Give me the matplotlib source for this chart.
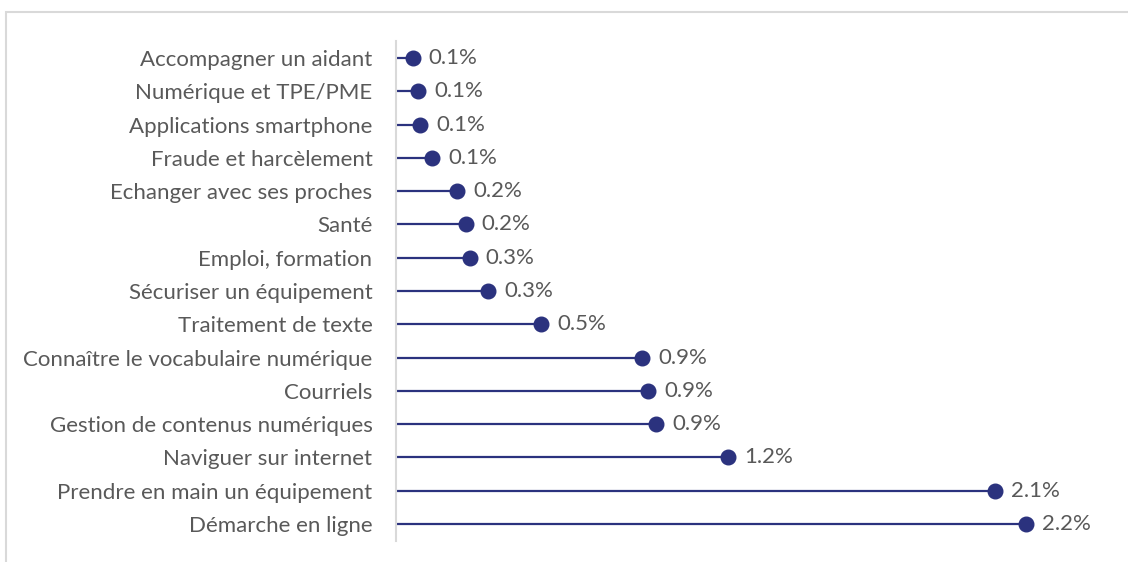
import matplotlib
matplotlib.use("Agg")
import matplotlib.pyplot as plt
from matplotlib.patches import Rectangle

categories = [
    "Accompagner un aidant",
    "Numérique et TPE/PME",
    "Applications smartphone",
    "Fraude et harcèlement",
    "Echanger avec ses proches",
    "Santé",
    "Emploi, formation",
    "Sécuriser un équipement",
    "Traitement de texte",
    "Connaître le vocabulaire numérique",
    "Courriels",
    "Gestion de contenus numériques",
    "Naviguer sur internet",
    "Prendre en main un équipement",
    "Démarche en ligne",
]
values = [0.059, 0.077, 0.084, 0.126, 0.213, 0.244, 0.258, 0.321,
          0.506, 0.859, 0.880, 0.908, 1.159, 2.09, 2.2]

navy = "#2B327E"
text_grey = "#595959"
font = ["Lato", "DejaVu Sans"]
fsize = 16

W, H = 1128, 562
fig = plt.figure(figsize=(W / 100, H / 100), dpi=100)

# outer chart frame
fig.patches.append(Rectangle((5.5 / W, -0.1), 1.2, 1 - 11.5 / H + 0.1,
                             transform=fig.transFigure, fill=False,
                             edgecolor="#D9D9D9", linewidth=1.5))

ax_left, ax_right = 396 / W, 1112 / W
ax_top, ax_bottom = 1 - 41.5 / H, 1 - 540.5 / H
ax = fig.add_axes([ax_left, ax_bottom, ax_right - ax_left, ax_top - ax_bottom])

n = len(categories)
ypos = list(range(n))
ax.hlines(ypos, 0, values, color=navy, linewidth=1.6, zorder=2)
ax.plot(values, ypos, "o", color=navy, markersize=10.5, zorder=3)
for y, v in zip(ypos, values):
    ax.annotate(f"{v:.1f}%", (v, y), xytext=(11.5, 0), textcoords="offset points",
                va="center", ha="left", fontsize=fsize, color=text_grey,
                family=font)

ax.set_xlim(0, 2.5)
ax.set_ylim(n - 0.5, -0.5)
ax.set_yticks(ypos)
ax.set_yticklabels(categories, family=font, fontsize=fsize, color=text_grey)
ax.tick_params(axis="y", length=0, pad=17)
ax.set_xticks([])
for s in ["top", "right", "bottom"]:
    ax.spines[s].set_visible(False)
ax.spines["left"].set_color("#D9D9D9")
ax.spines["left"].set_linewidth(1.5)
ax.patch.set_alpha(0)

fig.savefig("out.png", dpi=100)
